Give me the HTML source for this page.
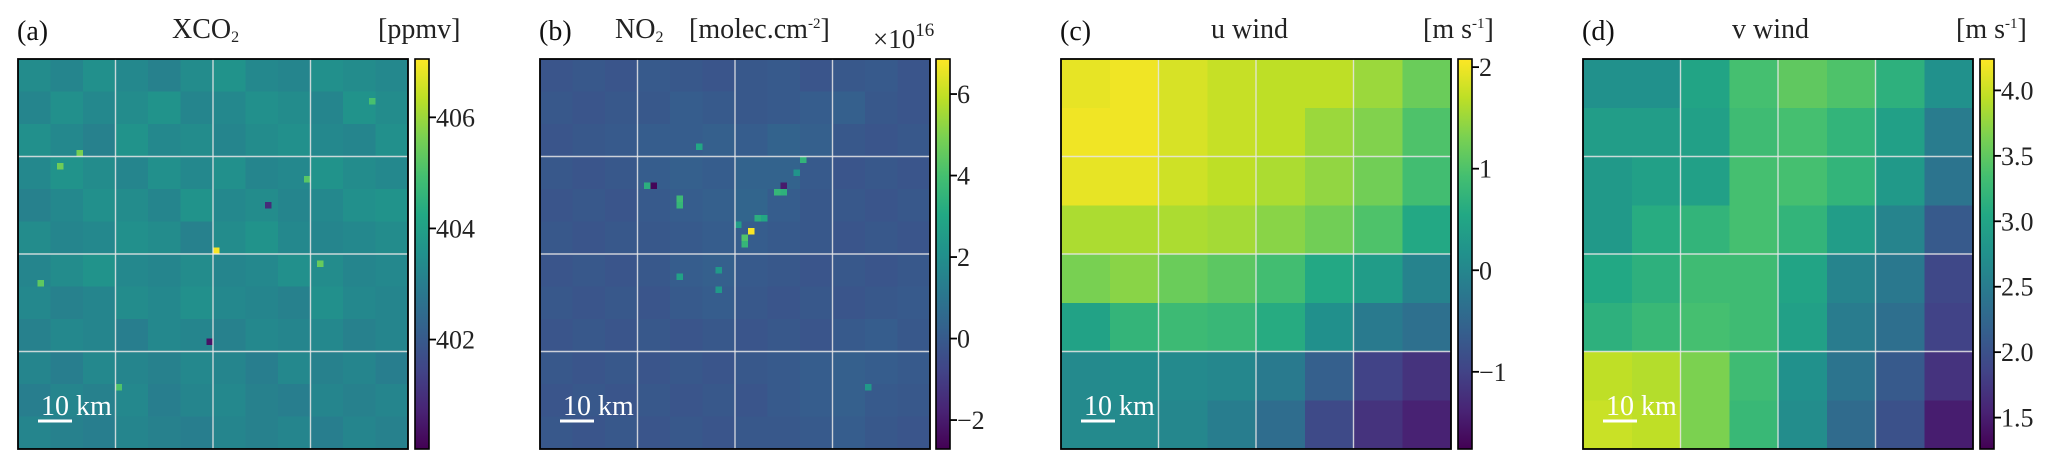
<!DOCTYPE html>
<html><head><meta charset="utf-8"><style>
html,body{margin:0;padding:0;background:#fff;}
svg{display:block;font-family:"Liberation Serif","DejaVu Serif",serif;}
</style></head><body>
<svg id="fig" width="2067" height="468" viewBox="0 0 2067 468" xmlns="http://www.w3.org/2000/svg">
<defs>
<linearGradient id="vir" x1="0" y1="1" x2="0" y2="0">
<stop offset="0" stop-color="#440154"/><stop offset="0.1" stop-color="#482475"/><stop offset="0.2" stop-color="#414487"/><stop offset="0.3" stop-color="#355f8d"/><stop offset="0.4" stop-color="#2a788e"/><stop offset="0.5" stop-color="#21918c"/><stop offset="0.6" stop-color="#22a884"/><stop offset="0.7" stop-color="#44bf70"/><stop offset="0.8" stop-color="#7ad151"/><stop offset="0.9" stop-color="#bddf26"/><stop offset="1" stop-color="#fde725"/>
</linearGradient>
</defs>
</svg>
<script>
// ---- data ----
const xco2Base = [
[403.4,403.2,403.5,403.3,403.1,403.4,403.6,403.3,403.2,403.5,403.4,403.3],
[403.2,403.5,403.3,403.4,403.6,403.2,403.3,403.5,403.4,403.2,403.6,403.4],
[403.5,403.3,403.1,403.6,403.3,403.4,403.2,403.4,403.5,403.3,403.2,403.5],
[403.3,403.6,403.4,403.2,403.5,403.3,403.5,403.2,403.3,403.6,403.4,403.3],
[403.1,403.3,403.5,403.4,403.2,403.6,403.3,403.4,403.2,403.3,403.5,403.6],
[403.4,403.2,403.3,403.5,403.4,403.1,403.4,403.6,403.3,403.2,403.3,403.4],
[403.2,403.4,403.6,403.3,403.2,403.4,403.2,403.3,403.5,403.4,403.2,403.3],
[403.3,403.1,403.2,403.4,403.3,403.5,403.3,403.2,403.1,403.5,403.3,403.2],
[403.1,403.3,403.2,403.0,403.3,403.2,403.1,403.3,403.2,403.3,403.1,403.2],
[403.2,403.0,403.3,403.2,403.1,403.3,403.2,403.0,403.3,403.1,403.2,403.0],
[403.0,403.2,403.1,403.3,403.0,403.2,403.3,403.1,403.0,403.2,403.1,403.2],
[403.2,403.1,403.0,403.2,403.1,403.0,403.2,403.1,403.2,403.0,403.2,403.1]];
const xco2SpotCol = [30,9,29,6,46,54,3,44,15,38];
const xco2SpotRow = [29,14,43,16,31,6,34,18,50,22];
const xco2SpotVal = [407.0,405.6,400.4,405.5,405.4,405.0,405.3,405.2,405.1,400.9];

const no2Base = [
[-0.2,-0.1,-0.2,0.0,-0.1,-0.2,-0.1,0.0,-0.2,-0.1,0.0,-0.2],
[-0.1,-0.2,-0.1,-0.1,0.1,0.0,-0.1,0.0,0.1,0.2,-0.1,-0.2],
[-0.2,-0.1,0.0,0.1,0.1,0.2,0.1,0.3,0.2,-0.1,-0.2,-0.1],
[-0.1,-0.2,-0.1,0.1,0.2,0.1,0.3,0.3,0.0,-0.2,-0.1,-0.2],
[-0.2,-0.1,-0.2,0.0,0.1,0.2,0.4,0.1,-0.1,-0.1,-0.2,-0.1],
[-0.1,-0.2,-0.1,-0.1,0.0,0.1,0.1,0.0,-0.1,-0.2,-0.1,-0.2],
[-0.2,-0.1,-0.2,-0.1,0.1,0.2,0.0,-0.1,-0.2,-0.1,-0.2,-0.1],
[-0.1,-0.2,-0.1,-0.2,0.0,0.1,-0.1,-0.2,-0.1,-0.2,-0.1,0.0],
[-0.2,-0.1,-0.2,-0.1,-0.2,-0.1,-0.2,-0.1,-0.2,0.0,0.1,-0.1],
[-0.1,-0.2,-0.1,-0.2,-0.1,-0.2,-0.1,0.0,0.1,0.2,0.1,0.0],
[-0.2,-0.1,-0.2,-0.1,-0.2,-0.1,-0.2,0.0,0.1,0.2,0.0,-0.1],
[-0.1,-0.2,-0.1,-0.2,-0.1,-0.2,-0.1,-0.1,0.0,0.1,-0.1,-0.2]];
const no2SpotCol = [32,31,31,33,34,36,37,40,24,16,17,21,21,27,27,21,50,37,39,30];
const no2SpotRow = [26,27,28,24,24,20,20,15,13,19,19,21,22,32,35,33,50,19,17,25];
const no2SpotVal = [6.8,4.2,3.6,3.3,3.0,3.6,3.4,3.5,3.0,3.3,-2.6,3.8,3.6,2.4,2.4,2.8,2.4,-2.0,2.2,2.6];

const uWind = [
[1.95,2.00,1.85,1.75,1.70,1.70,1.50,1.20],
[2.00,2.00,1.85,1.75,1.70,1.50,1.35,1.00],
[1.95,1.95,1.80,1.70,1.60,1.45,1.25,0.90],
[1.60,1.60,1.60,1.55,1.40,1.25,1.00,0.55],
[1.30,1.40,1.20,1.10,0.90,0.55,0.35,-0.05],
[0.45,0.75,0.85,0.80,0.60,0.15,-0.20,-0.35],
[0.05,0.10,0.05,0.00,-0.20,-0.60,-1.00,-1.20],
[0.05,0.05,0.00,-0.15,-0.40,-0.90,-1.20,-1.40]];
const vWind = [
[2.75,2.75,3.00,3.35,3.50,3.40,3.15,2.75],
[2.90,2.90,2.95,3.30,3.35,3.20,2.95,2.50],
[2.85,2.95,2.95,3.35,3.35,3.20,2.85,2.40],
[2.85,3.10,3.20,3.35,3.20,2.90,2.60,2.10],
[3.05,3.15,3.30,3.30,3.00,2.60,2.45,1.90],
[3.15,3.25,3.35,3.30,2.95,2.50,2.35,1.85],
[3.95,3.90,3.65,3.30,2.75,2.40,2.10,1.70],
[4.00,3.95,3.65,3.25,2.70,2.30,2.00,1.50]];

const xco2Range = [400.03, 407.05];
const no2Range = [-2.71, 6.86];
const uRange = [-1.76, 2.08];
const vRange = [1.26, 4.24];
const xco2Ticks = [402, 404, 406];
const xco2TickLabels = ["402","404","406"];
const no2Ticks = [-2, 0, 2, 4, 6];
const no2TickLabels = ["\u22122","0","2","4","6"];
const uTicks = [-1, 0, 1, 2];
const uTickLabels = ["\u22121","0","1","2"];
const vTicks = [1.5, 2.0, 2.5, 3.0, 3.5, 4.0];
const vTickLabels = ["1.5","2.0","2.5","3.0","3.5","4.0"];

// ---- rendering ----
const NS = "http://www.w3.org/2000/svg";
const svg = document.getElementById("fig");
const VIR = ["#440154","#482475","#414487","#355f8d","#2a788e","#21918c","#22a884","#44bf70","#7ad151","#bddf26","#fde725"];
function hex(h){return [parseInt(h.substr(1,2),16),parseInt(h.substr(3,2),16),parseInt(h.substr(5,2),16)];}
function viridis(t){
  t=Math.max(0,Math.min(1,t));
  const p=t*10, i=Math.min(9,Math.floor(p)), f=p-i;
  const a=hex(VIR[i]), b=hex(VIR[i+1]);
  return "rgb("+a.map((v,k)=>Math.round(v+(b[k]-v)*f)).join(",")+")";
}
function mk(tag, attrs, parent){
  const e=document.createElementNS(NS,tag);
  for(const k in attrs) e.setAttribute(k,attrs[k]);
  (parent||svg).appendChild(e);
  return e;
}
const Y0=59, H=390, W=390;

function drawPanel(p){
  const g=mk("g",{});
  
  
  const norm=v=>(v-p.range[0])/(p.range[1]-p.range[0]);
  const hm=mk("g",{"shape-rendering":"crispEdges"},g);
  
  
  const nr=p.grid.length, nc=p.grid[0].length;
  const cw=W/nc, ch=H/nr;
  p.grid.forEach((row,r)=>row.forEach((v,c)=>{
    const x0=p.x+c*cw, y0=Y0+r*ch;
    const cell=mk("rect",{x:x0,y:y0,width:cw+0.6,height:ch+0.6,fill:viridis(norm(v))},hm);
    
    
  }));
  if(p.spotCol){
    const sw=W/60;
    p.spotCol.forEach((c,i)=>{
      const s=mk("rect",{x:p.x+c*sw,y:Y0+p.spotRow[i]*sw,width:sw,height:sw,fill:viridis(norm(p.spotVal[i]))},hm);
      
      
    });
  }
  for(let k=1;k<4;k++){
    const gx=mk("line",{x1:p.x+k*W/4,x2:p.x+k*W/4,y1:Y0,y2:Y0+H,stroke:"#e6e6e6","stroke-width":1.4,"stroke-opacity":0.85},g);
    
    
    const gy=mk("line",{x1:p.x,x2:p.x+W,y1:Y0+k*H/4,y2:Y0+k*H/4,stroke:"#e6e6e6","stroke-width":1.4,"stroke-opacity":0.85},g);
    
    
  }
  const fr=mk("rect",{x:p.x,y:Y0,width:W,height:H,fill:"none",stroke:"#000","stroke-width":1.8},g);
  
  
  const sb=mk("line",{x1:p.x+20,x2:p.x+54,y1:Y0+362,y2:Y0+362,stroke:"#fff","stroke-width":3},g);
  
  
  const st=mk("text",{x:p.x+23,y:Y0+356,fill:"#fff","font-size":28},g);
  st.textContent="10 km";
  
  
  const cb=mk("rect",{x:p.cbx,y:Y0,width:14,height:H,fill:"url(#vir)",stroke:"#000","stroke-width":1.6},g);
  
  
  p.ticks.forEach((t,i)=>{
    const y=Y0+H-norm(t)*H;
    const tl=mk("line",{x1:p.cbx+14,x2:p.cbx+21,y1:y,y2:y,stroke:"#000","stroke-width":1.8},g);
    
    
    const tx=mk("text",{x:p.cbx+21,y:y+9,fill:"#222","font-size":26},g);
    tx.textContent=p.tickLabels[i];
    
    
  });
  const lab=mk("text",{x:p.x-1,y:40,fill:"#111","font-size":28},g);
  lab.textContent=p.letter;
  
  
  p.titles.forEach(tt=>{
    const t=mk("text",{x:tt.x,y:tt.y||38,fill:"#222","font-size":tt.fs||28},g);
    if(tt.w) { t.setAttribute("textLength", tt.w); t.setAttribute("lengthAdjust","spacingAndGlyphs"); }
    t.innerHTML=tt.html;
    
    
  });
}

drawPanel({name:"xco2",x:18,cbx:415,grid:xco2Base,spotCol:xco2SpotCol,spotRow:xco2SpotRow,spotVal:xco2SpotVal,range:xco2Range,ticks:xco2Ticks,tickLabels:xco2TickLabels,letter:"(a)",
  titles:[{name:"panel-title",x:172,html:'XCO<tspan font-size="16" dy="4">2</tspan>'},{name:"unit-label",x:378,html:'[ppmv]'}]});
drawPanel({name:"no2",x:540,cbx:936,grid:no2Base,spotCol:no2SpotCol,spotRow:no2SpotRow,spotVal:no2SpotVal,range:no2Range,ticks:no2Ticks,tickLabels:no2TickLabels,letter:"(b)",
  titles:[{name:"panel-title",x:615,html:'NO<tspan font-size="16" dy="4">2</tspan>'},{name:"unit-label",x:689,html:'[molec.cm<tspan font-size="15" dy="-10">-2</tspan><tspan dy="10">]</tspan>'},{name:"colorbar-multiplier",x:873,y:48,fs:27,html:'×10<tspan font-size="19" dy="-12">16</tspan>'}]});
drawPanel({name:"u-wind",x:1061,cbx:1458,grid:uWind,range:uRange,ticks:uTicks,tickLabels:uTickLabels,letter:"(c)",
  titles:[{name:"panel-title",x:1211,html:'u wind'},{name:"unit-label",x:1423,html:'[m s<tspan font-size="15" dy="-10">-1</tspan><tspan dy="10">]</tspan>'}]});
drawPanel({name:"v-wind",x:1583,cbx:1980,grid:vWind,range:vRange,ticks:vTicks,tickLabels:vTickLabels,letter:"(d)",
  titles:[{name:"panel-title",x:1732,html:'v wind'},{name:"unit-label",x:1956,html:'[m s<tspan font-size="15" dy="-10">-1</tspan><tspan dy="10">]</tspan>'}]});
</script>
</body></html>
